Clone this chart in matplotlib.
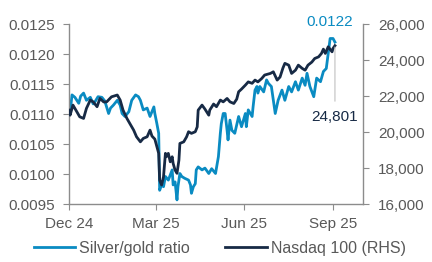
import numpy as np
import pandas as pd
import matplotlib
matplotlib.use("Agg")
import matplotlib.pyplot as plt
from matplotlib.ticker import FuncFormatter

plt.rcParams['font.family'] = ['Liberation Sans', 'DejaVu Sans']

start = pd.Timestamp("2024-12-01")

# silver/gold ratio (LHS) - days counted from 1 Dec 2024
ratio_days = [0, 2, 3, 6, 10, 12, 15, 18, 22, 25, 27, 30, 34, 37, 41, 43, 46, 50, 53, 55,
              58, 62, 65, 69, 72, 74, 77, 81, 84, 88, 89, 91, 93, 94, 96, 98, 100, 103, 107, 108,
              110, 112, 113, 115, 117, 120, 124, 126, 127, 129, 131, 132, 134, 138, 141, 145, 148, 152, 155, 157,
              158, 160, 162, 164, 165, 167, 169, 172, 176, 179, 183, 184, 186, 190, 191, 193, 195, 196, 198, 202,
              205, 207, 210, 214, 217, 221, 224, 228, 231, 235, 238, 242, 245, 247, 250, 254, 257, 261, 264, 267,
              269, 271, 274, 276]
ratio = [0.01103, 0.01117, 0.01132, 0.01128, 0.01118, 0.01130, 0.01135, 0.01123, 0.01128, 0.01117,
         0.01121, 0.01129, 0.01128, 0.01122, 0.01101, 0.01110, 0.01115, 0.01123, 0.01115, 0.01101,
         0.01096, 0.01104, 0.01123, 0.01132, 0.01129, 0.01123, 0.01107, 0.01110, 0.01096, 0.01112,
         0.01101, 0.01085, 0.01068, 0.00973, 0.00982, 0.00979, 0.00996, 0.00990, 0.01007, 0.00982,
         0.00987, 0.00957, 0.00979, 0.01001, 0.00996, 0.00993, 0.00990, 0.00982, 0.00968, 0.00979,
         0.00984, 0.01007, 0.01012, 0.01007, 0.01010, 0.01001, 0.01009, 0.01001, 0.01029, 0.01068,
         0.01084, 0.01101, 0.01101, 0.01073, 0.01057, 0.01090, 0.01073, 0.01068, 0.01096, 0.01079,
         0.01101, 0.01079, 0.01107, 0.01096, 0.01112, 0.01140, 0.01146, 0.01135, 0.01146, 0.01137,
         0.01157, 0.01151, 0.01146, 0.01101, 0.01123, 0.01140, 0.01123, 0.01146, 0.01137, 0.01154,
         0.01140, 0.01160, 0.01148, 0.01168, 0.01146, 0.01129, 0.01160, 0.01154, 0.01171, 0.01176,
         0.01201, 0.01226, 0.01226, 0.01220]

# Nasdaq 100 (RHS)
ndx_days = [0, 1, 4, 8, 11, 15, 18, 22, 25, 29, 32, 36, 39, 44, 50, 53, 56, 60, 63, 67,
            70, 74, 77, 81, 84, 86, 89, 93, 94, 96, 98, 100, 101, 103, 105, 107, 108, 110, 112, 114,
            115, 119, 122, 124, 127, 131, 133, 134, 138, 141, 145, 146, 150, 153, 157, 160, 164, 167, 171, 174,
            176, 179, 183, 186, 190, 193, 196, 200, 203, 209, 212, 216, 219, 222, 224, 228, 231, 235, 238, 242,
            245, 248, 252, 255, 259, 262, 264, 266, 269, 273, 274, 276]
ndx = [21220, 20940, 21500, 21130, 20850, 20760, 21320, 21780, 21680, 21410,
       21870, 21670, 21680, 21960, 22060, 21780, 21220, 20760, 20480, 20110,
       19740, 19460, 19650, 19740, 20110, 19780, 19610, 18820, 17330, 17060,
       17520, 18820, 18630, 18820, 18350, 18630, 18260, 17890, 17710, 18440,
       19370, 19460, 19740, 20020, 19930, 20020, 20290, 21220, 21500, 21280,
       20940, 21220, 21560, 21410, 21780, 21680, 21870, 21680, 21590, 21830,
       22240, 22390, 22610, 22790, 22710, 22890, 22790, 22980, 23170, 23260,
       23350, 22890, 23060, 23560, 23820, 23720, 23260, 23440, 23720, 23540,
       23440, 23720, 23890, 24090, 24180, 24370, 24610, 24370, 24740, 24460,
       24650, 24801]

blue = "#0a8bc2"
navy = "#172a45"
grey = "#595959"
axis_grey = "#8c8c8c"

ratio_dates = start + pd.to_timedelta(ratio_days, unit="D")
ndx_dates = start + pd.to_timedelta(ndx_days, unit="D")

fig = plt.figure(figsize=(4.32, 2.62), dpi=100)
ax = fig.add_axes([0.16, 0.221, 0.68, 0.687])
ax2 = ax.twinx()

l1, = ax.plot(ratio_dates, ratio, color=blue, lw=2)
l2, = ax2.plot(ndx_dates, ndx, color=navy, lw=2)

ax.set_xlim(start, start + pd.Timedelta(days=305))
ax.set_ylim(0.0095, 0.0125)
ax2.set_ylim(16000, 26000)

ax.set_yticks(np.arange(0.0095, 0.01251, 0.0005))
ax.yaxis.set_major_formatter(FuncFormatter(lambda v, p: f"{v:.4f}"))
ax2.set_yticks(np.arange(16000, 26001, 2000))
ax2.yaxis.set_major_formatter(FuncFormatter(lambda v, p: f"{v:,.0f}"))
xt = pd.to_datetime(["2024-12-01", "2025-03-01", "2025-06-01", "2025-09-01"])
ax.set_xticks(xt)
ax.set_xticklabels([d.strftime("%b %y") for d in xt])

for a in (ax, ax2):
    a.spines['top'].set_visible(False)
    for s in a.spines.values():
        s.set_color(axis_grey)
        s.set_linewidth(1)
ax.spines['right'].set_visible(False)
ax2.spines['left'].set_visible(False)
ax2.spines['bottom'].set_visible(False)

ax.tick_params(axis='y', length=4, color=axis_grey, labelcolor=grey, labelsize=11, pad=6)
ax.tick_params(axis='x', length=4, color=axis_grey, labelcolor=grey, labelsize=11, pad=5)
ax2.tick_params(axis='y', length=4, color=axis_grey, labelcolor=grey, labelsize=11, pad=7)

ax.annotate("0.0122", xy=(ratio_dates[-1], ratio[-1]), xytext=(-4, 14.5),
            textcoords='offset points', ha='center', va='center',
            color=blue, fontsize=11, annotation_clip=False)
ax2.annotate("24,801", xy=(ndx_dates[-1], ndx[-1]), xytext=(0, -51),
             textcoords='offset points', ha='center', va='center',
             color=navy, fontsize=11,
             arrowprops=dict(arrowstyle='-', color='#c0c0c0', lw=0.8, shrinkA=4, shrinkB=1))

fig.legend([l1, l2], ["Silver/gold ratio", "Nasdaq 100 (RHS)"], loc='center',
           bbox_to_anchor=(0.509, 0.053), ncol=2, frameon=False, handlelength=2.6,
           handletextpad=0.25, columnspacing=2.2, fontsize=11.5, labelcolor=grey)

plt.savefig("out.png", dpi=100)
